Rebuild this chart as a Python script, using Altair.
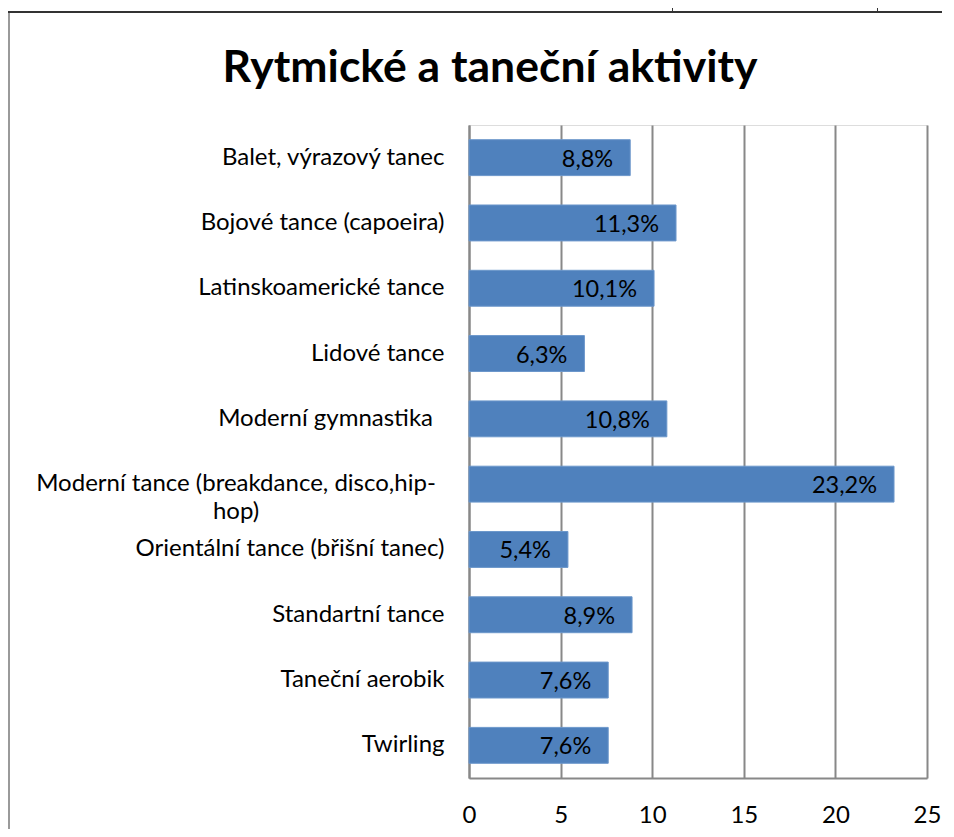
import altair as alt
import pandas as pd

# ---- data ----
categories = [
    "Balet, výrazový tanec",
    "Bojové tance (capoeira)",
    "Latinskoamerické tance",
    "Lidové tance",
    "Moderní gymnastika",
    "Moderní tance (breakdance, disco,hip-hop)",
    "Orientální tance (břišní tanec)",
    "Standartní tance",
    "Taneční aerobik",
    "Twirling",
]
values = [8.8, 11.3, 10.1, 6.3, 10.8, 23.2, 5.4, 8.9, 7.6, 7.6]
tick_values = [0, 5, 10, 15, 20, 25]
title_text = "Rytmické a taneční aktivity"
wrapped_label = "Moderní tance (breakdance, disco,hip-hop)"
wrapped_lines = ["Moderní tance (breakdance, disco,hip-", "hop)"]
shifted_label = "Moderní gymnastika"

df = pd.DataFrame({
    "label": categories,
    "value": values,
    "text": [f"{v:.1f}".replace(".", ",") + "%" for v in values],
})
df["display"] = ["\n".join(wrapped_lines) if c == wrapped_label else c for c in categories]

FONT = "Lato"
BAR = "#4F81BD"
GRID = "#888888"
LABEL_SIZE = 24

y_scale = alt.Scale(paddingInner=0.45, paddingOuter=0.225)
y_enc = alt.Y(
    "label:N",
    sort=categories,
    title=None,
    scale=y_scale,
    axis=alt.Axis(
        labelExpr=f"datum.label == '{wrapped_label}' || datum.label == '{shifted_label}' ? '' : datum.label",
        labelFont=FONT, labelFontSize=LABEL_SIZE, labelColor="#000000",
        labelPadding=25, labelLimit=600,
        ticks=False, domainColor=GRID, domainWidth=2, grid=False,
    ),
)
x_enc = alt.X(
    "value:Q",
    title=None,
    scale=alt.Scale(domain=[0, 25], nice=False),
    axis=alt.Axis(
        values=tick_values, labelFont=FONT, labelFontSize=24, labelColor="#000000",
        labelPadding=25, ticks=False, grid=True, gridColor=GRID, gridWidth=2,
        domainColor=GRID, domainWidth=2, labelFlush=False,
    ),
)

base = alt.Chart(df)
bars = base.mark_bar(color=BAR, stroke="#6C97CB", strokeWidth=1).encode(x=x_enc, y=y_enc)
labels = base.mark_text(
    align="right", baseline="middle", dx=-17, dy=2, font=FONT, fontSize=23.5, color="#000000"
).encode(x="value:Q", y=alt.Y("label:N", sort=categories), text="text:N")

# category labels that the reference positions differently
wrap_text = base.transform_filter(alt.datum.label == wrapped_label).mark_text(
    align="center", baseline="middle", lineBreak="\n", lineHeight=28,
    font=FONT, fontSize=LABEL_SIZE, color="#000000"
).encode(x=alt.value(-233), y=alt.Y("label:N", sort=categories), text="display:N")
gym_text = base.transform_filter(alt.datum.label == shifted_label).mark_text(
    align="right", baseline="middle",
    font=FONT, fontSize=LABEL_SIZE, color="#000000"
).encode(x=alt.value(-36), y=alt.Y("label:N", sort=categories), text="display:N")

# page frame lines visible in the reference
frame_left = alt.Chart(df).mark_rule(color="#9a9a9a", strokeWidth=2).encode(
    x=alt.value(-460), y=alt.value(-113), y2=alt.value(720)
)
frame_top = alt.Chart(df).mark_rule(color="#333333", strokeWidth=2).encode(
    x=alt.value(-461), x2=alt.value(485), y=alt.value(-113)
)
frame_t1 = alt.Chart(df).mark_rule(color="#333333", strokeWidth=1).encode(
    x=alt.value(203.5), y=alt.value(-125), y2=alt.value(-113)
)
frame_t2 = alt.Chart(df).mark_rule(color="#333333", strokeWidth=1).encode(
    x=alt.value(408.5), y=alt.value(-125), y2=alt.value(-113)
)

chart = alt.layer(
    frame_left, frame_top, frame_t1, frame_t2, bars, labels, wrap_text, gym_text
).properties(
    width=458,
    height=653,
    autosize=alt.AutoSizeParams(type="none"),
    padding={"left": 461, "top": 117, "right": 15, "bottom": 51},
    title=alt.TitleParams(
        title_text, font=FONT, fontSize=44.5, fontWeight="bold", color="#000000",
        anchor="middle", dx=-208, offset=-127, baseline="alphabetic",
    ),
).configure_view(strokeWidth=0).configure(background="#ffffff")

chart.save("out.html", embed_options={"renderer": "svg", "actions": False})
